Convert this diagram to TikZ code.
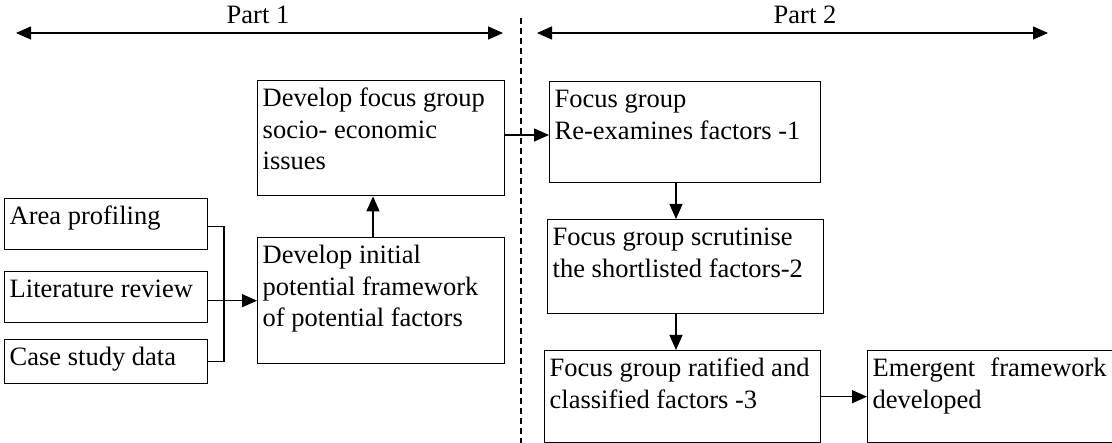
\documentclass[tikz,border=0pt]{standalone}
\usepackage{fontspec}
\setmainfont{Liberation Serif}
\usetikzlibrary{arrows.meta,calc}
\tikzset{
  box/.style={draw, line width=1.4pt, anchor=north west, inner xsep=5pt, inner ysep=3.5pt},
  arr/.style={line width=1.4pt, -{Triangle[length=15pt,width=13pt]}},
  darr/.style={line width=1.4pt, {Triangle[length=15pt,width=13pt]}-{Triangle[length=15pt,width=13pt]}},
  divider/.style={line width=1.2pt, dash pattern=on 6pt off 4pt},
  lbl/.style={inner sep=0pt, anchor=base}
}
\newcommand{\mybox}[6]{\node[box] (#1) at (#2,#3) {\parbox[c][\dimexpr#5pt-7pt\relax][t]{\dimexpr#4pt-10pt\relax}{\strut #6}};}
\begin{document}
\begin{tikzpicture}[x=1pt,y=-1pt,font=\fontsize{26.5}{31.7}\selectfont]
\useasboundingbox (0,0) rectangle (1112,443);
% parts
\node[lbl] (p1) at (258,24) {Part 1};
\node[lbl] (p2) at (805,24) {Part 2};
\coordinate (a1l) at (16,33);
\coordinate (a1r) at (503,33);
\coordinate (a2l) at (537,33);
\coordinate (a2r) at (1048,33);
\draw[darr] (a1l) -- (a1r);
\draw[darr] (a2l) -- (a2r);
\coordinate (dtop) at (521,18);
\coordinate (dbot) at (521,443);
\draw[divider] (dtop) -- (dbot);
% boxes
\mybox{area}{4}{198}{203}{51}{Area profiling}
\mybox{lit}{4}{271}{203}{51}{Literature review}
\mybox{case}{4}{339}{203}{44}{Case study data}
\mybox{devfocus}{257}{80}{247}{115}{Develop focus group\\socio- economic\\issues}
\mybox{devinit}{257}{237}{247}{126}{Develop initial\\potential framework\\of potential factors}
\mybox{reex}{549}{81}{271}{101}{Focus group\\Re-examines factors -1}
\mybox{scrut}{547}{219}{276}{94}{Focus group scrutinise\\the shortlisted factors-2}
\mybox{ratif}{544}{350}{276}{92}{Focus group ratified and\\classified factors -3}
\mybox{emerg}{867}{350}{246}{92}{Emergent\hfill framework\hspace*{2pt}\\developed}
% connectors
\coordinate (brk) at (224,0);
\coordinate (colx) at (676,0);
\coordinate (upx) at (373,0);
\coordinate (midy) at (0,135);
\draw[line width=1.4pt] ($(area.east)+(0,2.5)$) -- ($(area.east -| brk)+(0,2.5)$) -- (case.east -| brk) -- (case.east);
\draw[arr] (lit.east |- devinit.west) -- (devinit.west);
\draw[arr] (devinit.north -| upx) -- (devfocus.south -| upx);
\draw[arr] (devfocus.east |- midy) -- (reex.west |- midy);
\draw[arr] (reex.south -| colx) -- (scrut.north -| colx);
\draw[arr] (scrut.south -| colx) -- (ratif.north -| colx);
\draw[arr] (ratif.east) -- (emerg.west);
\end{tikzpicture}
\end{document}
